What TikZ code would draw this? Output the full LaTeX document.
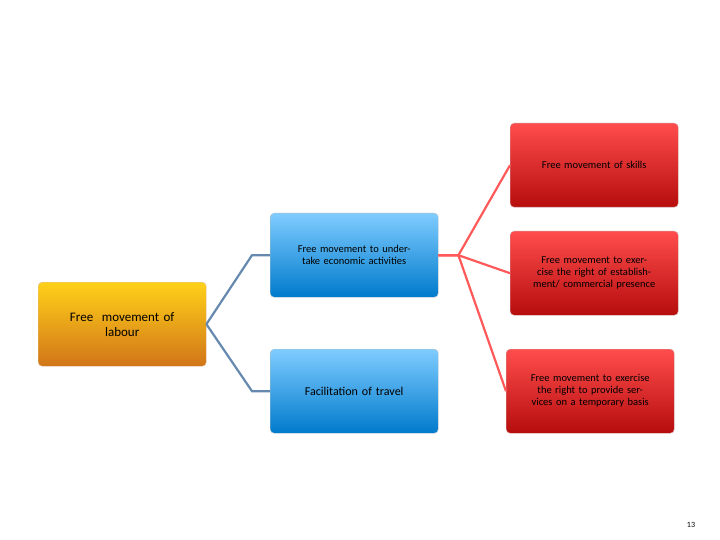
\documentclass[tikz,border=0pt]{standalone}
\usepackage{fontspec}
\setmainfont{Carlito}
\begin{document}
\begin{tikzpicture}[x=1pt,y=-1pt,
 box/.style={rounded corners=4pt,minimum width=168pt,minimum height=84pt,align=center,anchor=north west,text width=150pt,font=\fontsize{10.5}{12}\selectfont},
 ob/.style={box,top color=orange!40!yellow!90!white,bottom color=orange!80!black!90,draw=orange!70!black!40},
 bb/.style={box,top color=cyan!60!blue!50,bottom color=cyan!60!blue!80!black,draw=cyan!40!black!40},
 rb/.style={box,top color=red!70!white,bottom color=red!70!black!95,draw=red!50!black!40},
 oc/.style={line width=2.2pt,cyan!60!blue!50!gray},
 rc/.style={line width=2.2pt,red!65!white}]
\useasboundingbox (0,0) rectangle (720,540);
\node[ob,font=\fontsize{13}{15}\selectfont] (lab) at (38,282) {Free\ \ movement of\\labour};
\node[bb] (b1) at (270,213) {Free movement to undertake economic activities};
\node[bb,font=\fontsize{12}{14}\selectfont] (b2) at (270,349) {Facilitation of travel};
\node[rb] (r1) at (510,123) {Free movement of skills};
\node[rb] (r2) at (510,231) {Free movement to exercise the right of establishment/ commercial presence};
\node[rb] (r3) at (506,349) {Free movement to exercise the right to provide services on a temporary basis};
\node[font=\fontsize{8}{9}\selectfont] (pg) at (691,525) {13};
\draw[oc] (lab.east) -- ([xshift=-18pt]b1.west) -- (b1.west);
\draw[oc] (lab.east) -- ([xshift=-18pt]b2.west) -- (b2.west);
\draw[rc] (b1.east) -- ([xshift=20pt]b1.east) -- (r1.west);
\draw[rc] (b1.east) -- ([xshift=20pt]b1.east) -- (r2.west);
\draw[rc] (b1.east) -- ([xshift=20pt]b1.east) -- (r3.west);
\end{tikzpicture}
\end{document}
